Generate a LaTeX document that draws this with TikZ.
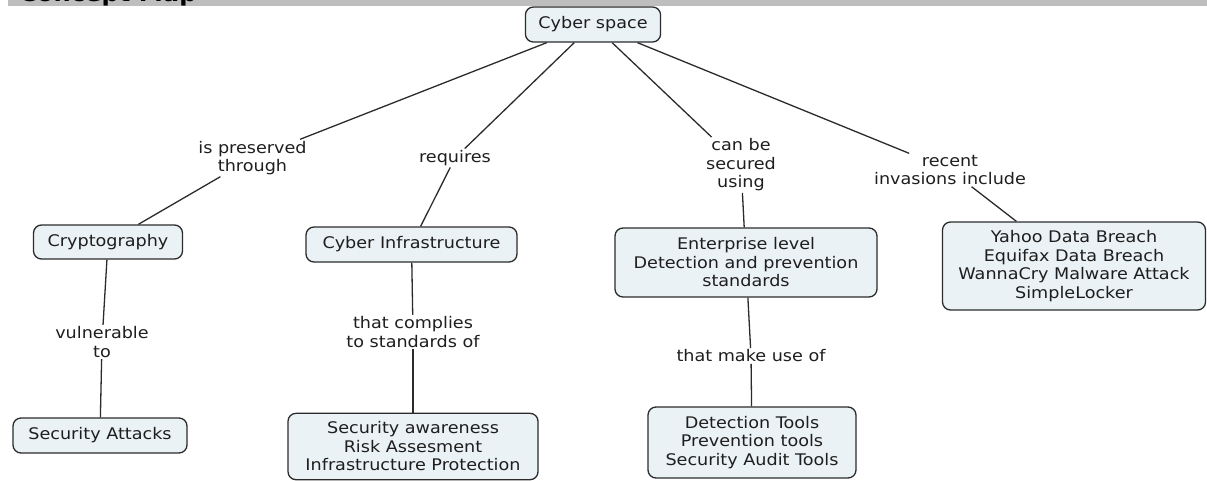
\documentclass[tikz,border=0pt]{standalone}
\usepackage{fontspec}
\setmainfont{DejaVu Sans}[FakeStretch=1.1]
\definecolor{linec}{HTML}{2B2B2B}
\definecolor{textc}{HTML}{1E1E1E}
\definecolor{conceptfill}{HTML}{EBF2F5}
\definecolor{barc}{HTML}{BEBEBE}
\newcommand{\mainsize}{\fontsize{16}{18.5}\selectfont}
\begin{document}
\begin{tikzpicture}[x=1pt,y=-1pt,
  concept/.style={draw=linec, line width=1.3pt, rounded corners=8pt, fill=conceptfill,
    text=textc, align=center, inner xsep=13pt, inner ysep=8.5pt, font=\mainsize},
  linkph/.style={align=center, inner sep=1.5pt, text=textc, font=\mainsize},
  conn/.style={draw=linec, line width=1.3pt}]
\useasboundingbox (0,0) rectangle (1207,480);
% title bar
\fill[barc] (8,0) rectangle (1207,6);
\begin{scope}
  \clip (8,0) rectangle (1207,6);
  \node[anchor=base west, inner sep=0pt, font=\fontsize{22}{24}\selectfont\bfseries, text=black] (title) at (19,1) {Concept Map};
\end{scope}
% concepts
\node[concept, minimum width=135pt, minimum height=35pt] (cyber) at (593,24.5) {Cyber space};
\node[concept, minimum width=149pt, minimum height=34pt] (crypto) at (108,242) {Cryptography};
\node[concept, minimum width=174pt, minimum height=35pt] (secatt) at (100,435.5) {Security Attacks};
\node[concept, minimum width=211pt, minimum height=35pt] (infra) at (411.5,244.5) {Cyber Infrastructure};
\node[concept, minimum width=250pt] (secaw) at (413,446.5) {Security awareness\\Risk Assesment\\Infrastructure Protection};
\node[concept, minimum width=262pt, minimum height=69pt] (enterp) at (746,262.5) {Enterprise level\\Detection and prevention\\standards};
\node[concept, minimum width=208pt, minimum height=71pt] (dettools) at (752,442.5) {Detection Tools\\Prevention tools\\Security Audit Tools};
\node[concept, minimum width=263pt, minimum height=88pt] (yahoo) at (1074,266) {Yahoo Data Breach\\Equifax Data Breach\\WannaCry Malware Attack\\SimpleLocker};
% linking phrases
\node[linkph] (lp1) at (252.5,158) {is preserved\\through};
\node[linkph] (lp2) at (455,158) {requires};
\node[linkph] (lp3) at (741,165) {can be\\secured\\using};
\node[linkph] (lp4) at (950,170) {recent\\invasions include};
\node[linkph] (lp5) at (102,342) {vulnerable\\to};
\node[linkph] (lp6) at (413,332) {that complies\\to standards of};
\node[linkph] (lp7) at (751,356) {that make use of};
% connectors
\draw[conn] (cyber) -- (lp1);
\draw[conn] (lp1) -- (crypto);
\draw[conn] (cyber) -- (lp2);
\draw[conn] (lp2) -- (infra);
\draw[conn] (cyber) -- (lp3);
\draw[conn] (lp3) -- (enterp);
\draw[conn] (cyber) -- (lp4);
\draw[conn] (lp4) -- (yahoo);
\draw[conn] (crypto) -- (lp5);
\draw[conn] (lp5) -- (secatt);
\draw[conn] (infra) -- (lp6);
\draw[conn] (lp6) -- (secaw);
\draw[conn] (enterp) -- (lp7);
\draw[conn] (lp7) -- (dettools);
\end{tikzpicture}
\end{document}
